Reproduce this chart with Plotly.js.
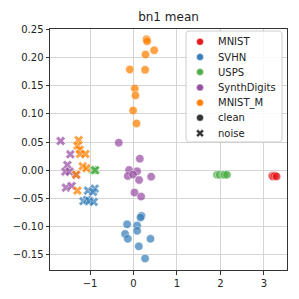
<!DOCTYPE html>
<html>
<head>
<meta charset="utf-8">
<script src="https://cdn.plot.ly/plotly-3.0.1.min.js"></script>
<style>html,body{margin:0;padding:0;background:#fff}#chart{width:299px;height:299px}</style>
</head>
<body>
<div id="chart"></div>
<script>
// ---- data ----
const domains = ["MNIST", "SVHN", "USPS", "SynthDigits", "MNIST_M"];
const styles = ["clean", "noise"];
const colors = ["#e41a1c", "#377eb8", "#4daf4a", "#984ea3", "#ff7f00"];

const mnistCleanX = [3.19, 3.21, 3.25, 3.29];
const mnistCleanY = [-0.010, -0.011, -0.010, -0.011];
const mnistNoiseX = [];
const mnistNoiseY = [];

const svhnCleanX = [0.184, 0.161, -0.147, 0.083, 0.083, -0.193, -0.131, 0.391, 0.122, 0.267];
const svhnCleanY = [-0.081, -0.084, -0.096, -0.098, -0.1075, -0.113, -0.1217, -0.1217, -0.135, -0.1565];
const svhnNoiseX = [-1.046, -0.892, -0.93, -1.152, -1.069, -1.014, -0.915];
const svhnNoiseY = [-0.0362, -0.0326, -0.0385, -0.055, -0.0527, -0.0544, -0.0562];

const uspsCleanX = [1.92, 1.98, 2.07, 2.10, 2.15];
const uspsCleanY = [-0.008, -0.008, -0.008, -0.008, -0.008];
const uspsNoiseX = [-0.93, -0.89, -0.88];
const uspsNoiseY = [0.0, 0.0, 0.0];

const synthCleanX = [-0.339, 0.145, -0.101, 0.083, -0.131, -0.009, 0.129, 0.406, 0.023, 0.175];
const synthCleanY = [0.0488, 0.0205, 0.0004, -0.0019, -0.0102, -0.0078, -0.0173, -0.0114, -0.0397, -0.0468];
const synthNoiseX = [-1.675, -1.452, -1.521, -1.567, -1.468, -1.313, -1.553, -1.422];
const synthNoiseY = [0.0518, 0.0282, 0.0093, -0.0025, -0.0025, -0.0084, -0.0309, -0.0279];

const mnistmCleanX = [0.30, 0.313, 0.475, 0.276, -0.085, 0.267, 0.030, 0.046, -0.009, 0.069];
const mnistmCleanY = [0.2323, 0.2288, 0.2128, 0.2052, 0.1786, 0.178, 0.145, 0.1326, 0.106, 0.083];
const mnistmNoiseX = [-1.26, -1.29, -1.237, -1.23, -1.106, -1.168, -1.083, -1.322, -1.29];
const mnistmNoiseY = [0.0535, 0.0435, 0.0364, 0.0288, 0.0288, 0.007, 0.0035, -0.0078, -0.0362];

const xTickVals = [-1, 0, 1, 2, 3];
const xTickText = ["\u22121", "0", "1", "2", "3"];
const yTickVals = [-0.15, -0.10, -0.05, 0.00, 0.05, 0.10, 0.15, 0.20, 0.25];
const yTickText = ["\u22120.15", "\u22120.10", "\u22120.05", "0.00", "0.05", "0.10", "0.15", "0.20", "0.25"];

const cleanX = [mnistCleanX, svhnCleanX, uspsCleanX, synthCleanX, mnistmCleanX];
const cleanY = [mnistCleanY, svhnCleanY, uspsCleanY, synthCleanY, mnistmCleanY];
const noiseX = [mnistNoiseX, svhnNoiseX, uspsNoiseX, synthNoiseX, mnistmNoiseX];
const noiseY = [mnistNoiseY, svhnNoiseY, uspsNoiseY, synthNoiseY, mnistmNoiseY];

// ---- layout geometry ----
const W = 299, H = 299;
const M = {l: 50, r: 12, t: 29, b: 29};
const PW = W - M.l - M.r, PH = H - M.t - M.b;
const px2x = p => (p - M.l) / PW;
const py2y = p => (H - M.b - p) / PH;

const traces = [];
const FONT = "DejaVu Sans, sans-serif";

// clean points
domains.forEach((d, i) => {
  traces.push({
    type: "scatter", mode: "markers", x: cleanX[i], y: cleanY[i], showlegend: false,
    marker: {symbol: "circle", size: 8.5, color: colors[i], opacity: 0.72, line: {color: "#ffffff", width: 0.6}}
  });
});
// noise points
domains.forEach((d, i) => {
  traces.push({
    type: "scatter", mode: "markers", x: noiseX[i], y: noiseY[i], showlegend: false,
    marker: {symbol: "x", size: 8.5, color: colors[i], opacity: 0.72, line: {color: "#ffffff", width: 0.6}}
  });
});

// ---- manual legend on an overlay axis (paper-like 0..1) ----
const bx0 = px2x(186), bx1 = px2x(282), by0 = py2y(142), by1 = py2y(31);
const rx = 3 / PW, ry = 3 / PH;
const boxX = [], boxY = [];
const corners = [[bx1 - rx, by1 - ry, 0], [bx0 + rx, by1 - ry, 90], [bx0 + rx, by0 + ry, 180], [bx1 - rx, by0 + ry, 270]];
corners.forEach(c => {
  for (let a = 0; a <= 90; a += 15) {
    const t = (c[2] + a) * Math.PI / 180;
    boxX.push(c[0] + rx * Math.cos(t));
    boxY.push(c[1] + ry * Math.sin(t));
  }
});
boxX.push(boxX[0]); boxY.push(boxY[0]);
traces.push({
  type: "scatter", mode: "lines", x: boxX, y: boxY, xaxis: "x2", yaxis: "y2",
  fill: "toself", fillcolor: "rgba(255,255,255,0.85)", line: {color: "#cccccc", width: 1},
  showlegend: false, hoverinfo: "skip"
});

const legendLabels = domains.concat(styles);
const legendColors = colors.concat(["#333333", "#333333"]);
const legendSymbols = domains.map(() => "circle").concat(["circle", "x"]);
const legendPy = [41.7, 57, 72, 87.5, 102.7, 117.7, 133.3];
traces.push({
  type: "scatter", mode: "markers", xaxis: "x2", yaxis: "y2", showlegend: false, hoverinfo: "skip",
  x: legendLabels.map(() => px2x(200)),
  y: legendPy.map(py2y),
  marker: {symbol: legendSymbols, size: 7, color: legendColors, line: {color: "#ffffff", width: 0.5}}
});
const annotations = legendLabels.map((lab, i) => ({
  xref: "paper", yref: "paper", x: px2x(216), y: py2y(legendPy[i]),
  xanchor: "left", yanchor: "middle", showarrow: false, text: lab,
  font: {family: FONT, size: 10, color: "#222222"}
}));

const axisCommon = {
  showline: true, mirror: true, linecolor: "#333333", linewidth: 1,
  showgrid: true, gridcolor: "#d4d4d4", gridwidth: 1, zeroline: false,
  ticks: "outside", ticklen: 3.5, tickwidth: 1, tickcolor: "#333333",
  tickfont: {family: FONT, size: 10, color: "#222222"}, tickmode: "array"
};

const layout = {
  width: W, height: H, autosize: false,
  margin: M, paper_bgcolor: "#ffffff", plot_bgcolor: "#ffffff",
  title: {text: "bn1 mean", font: {family: FONT, size: 12, color: "#222222"},
          x: (M.l + PW / 2) / W, xanchor: "center", xref: "container", y: 1 - 17 / H, yanchor: "middle", yref: "container"},
  xaxis: Object.assign({}, axisCommon, {range: [-1.92, 3.53], tickvals: xTickVals, ticktext: xTickText}),
  yaxis: Object.assign({}, axisCommon, {range: [-0.177, 0.2505], tickvals: yTickVals, ticktext: yTickText}),
  xaxis2: {overlaying: "x", range: [0, 1], visible: false, fixedrange: true},
  yaxis2: {overlaying: "y", range: [0, 1], visible: false, fixedrange: true},
  annotations: annotations,
  showlegend: false
};

Plotly.newPlot("chart", traces, layout, {staticPlot: true, displayModeBar: false});
</script>
</body>
</html>
